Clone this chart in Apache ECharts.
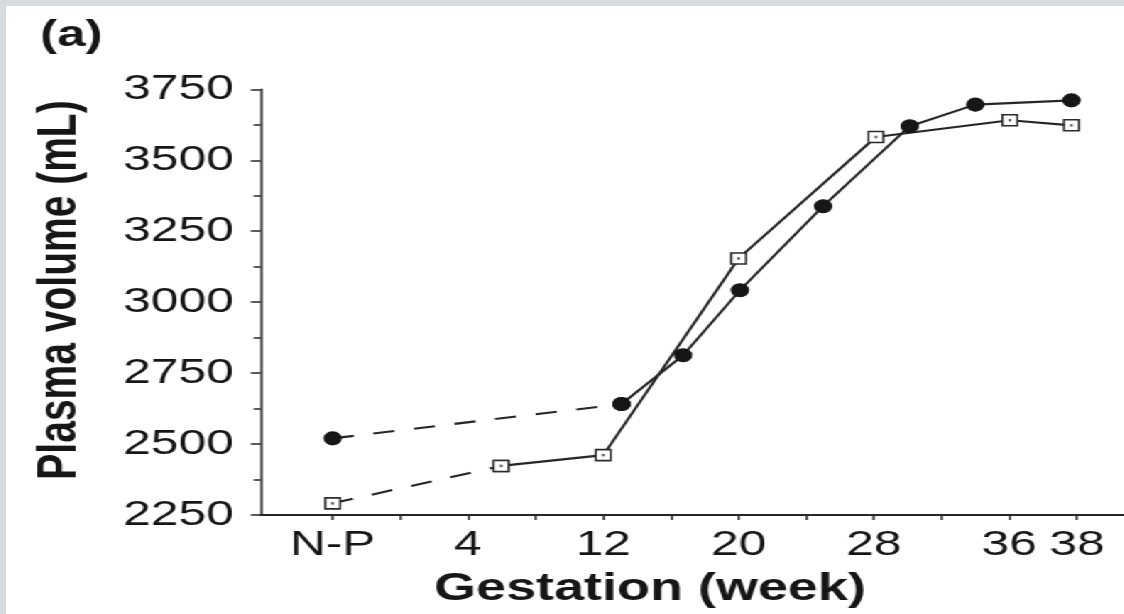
<!DOCTYPE html>
<html>
<head>
<meta charset="utf-8">
<script src="https://cdn.jsdelivr.net/npm/echarts@6/dist/echarts.min.js"></script>
<style>
  html, body { margin: 0; padding: 0; width: 1124px; height: 614px; overflow: hidden; background: #d5dbde; }
  #c { position: absolute; left: 6px; top: 6px; width: 787.3px; height: 608px; background: #ffffff;
       transform: scaleX(1.42); transform-origin: 0 0; }
</style>
</head>
<body>
<div id="c"></div>
<script>
// Tick labels of the gestation axis and the axis slot at which each sits
const xLabels = ['N-P', '4', '12', '20', '28', '36', '38'];
const xLabelSlots = [0, 2, 4, 6, 8, 10, 11];
const xTickSlots = [0, 1, 2, 3, 4, 5, 6, 7, 8, 9, 10, 11];
const yTicks = [2250, 2500, 2750, 3000, 3250, 3500, 3750];

// Filled circles (axis slot position, plasma volume mL)
const filledX = [0, 4.27, 5.18, 6.02, 7.25, 8.53, 9.50, 10.92];
const filledY = [2520, 2641, 2813, 3042, 3338, 3620, 3696, 3711];
// Open squares
const openX = [0, 2.49, 4.0, 6.0, 8.03, 10.01, 10.92];
const openY = [2291, 2423, 2461, 3154, 3582, 3641, 3623];

const pairs = (xs, ys) => xs.map((x, i) => [x, ys[i]]);
const filled = pairs(filledX, filledY);
const open = pairs(openX, openY);

const ink = '#262626';
const font = 'Liberation Sans, Arial, Helvetica, sans-serif';

const chart = echarts.init(document.getElementById('c'));
chart.setOption({
  animation: false,
  backgroundColor: '#ffffff',
  grid: { left: 179.4, right: 0, top: 83.3, bottom: 99, containLabel: false },
  xAxis: {
    type: 'value', min: -1.063, max: 11.69,
    axisLine: { show: true, onZero: false, lineStyle: { color: ink, width: 1.8 } },
    axisTick: { show: true, customValues: xTickSlots, length: 5, lineStyle: { color: ink, width: 1.5 } },
    axisLabel: {
      customValues: xLabelSlots,
      formatter: v => { const i = xLabelSlots.indexOf(Math.round(v)); return i >= 0 ? xLabels[i] : ''; },
      fontSize: 35, fontFamily: font, color: '#161616', margin: 13
    },
    splitLine: { show: false }
  },
  yAxis: {
    type: 'value', min: yTicks[0], max: yTicks[yTicks.length - 1], interval: 250,
    axisLine: { show: true, onZero: false, lineStyle: { color: ink, width: 1.5 } },
    axisTick: { show: true, length: 7, lineStyle: { color: ink, width: 1.5 } },
    minorTick: { show: true, splitNumber: 2, length: 5, lineStyle: { color: ink, width: 1.5 } },
    axisLabel: { formatter: v => String(v), fontSize: 35, fontFamily: font, color: '#161616', margin: 19 },
    splitLine: { show: false }
  },
  graphic: [
    { type: 'text', x: 46, y: 30,
      style: { text: '(a)', font: 'bold 36px ' + font, fill: '#161616', textAlign: 'center', textVerticalAlign: 'middle' } },
    { type: 'text', x: 38.7, y: 284, rotation: Math.PI / 2,
      style: { text: 'Plasma volume (mL)', font: 'bold 39px ' + font, fill: '#161616', textAlign: 'center', textVerticalAlign: 'middle' } },
    { type: 'text', x: 453.5, y: 584,
      style: { text: 'Gestation (week)', font: 'bold 38px ' + font, fill: '#161616', textAlign: 'center', textVerticalAlign: 'middle' } }
  ],
  series: [
    { type: 'line', data: open.slice(0, 2), symbol: 'rect', symbolSize: [10.5, 11], showSymbol: true,
      lineStyle: { color: ink, width: 2.1, type: [15, 14] },
      itemStyle: { color: '#ffffff', borderColor: '#2a2a2a', borderWidth: 1.5 }, z: 3 },
    { type: 'line', data: open.slice(1), symbol: 'rect', symbolSize: [10.5, 11],
      lineStyle: { color: ink, width: 2.1 },
      itemStyle: { color: '#ffffff', borderColor: '#2a2a2a', borderWidth: 1.5 }, z: 3 },
    { type: 'scatter', data: open, symbol: 'rect', symbolSize: [2, 2.5],
      itemStyle: { color: '#3a3a3a' }, z: 5 },
    { type: 'line', data: filled.slice(0, 2), symbol: 'circle', symbolSize: [12, 13],
      lineStyle: { color: ink, width: 2.1, type: [15, 14] },
      itemStyle: { color: '#161616', borderColor: '#161616' }, z: 4 },
    { type: 'line', data: filled.slice(1), symbol: 'circle', symbolSize: [12, 13],
      lineStyle: { color: ink, width: 2.1 },
      itemStyle: { color: '#161616', borderColor: '#161616' }, z: 4 }
  ]
});
</script>
</body>
</html>
